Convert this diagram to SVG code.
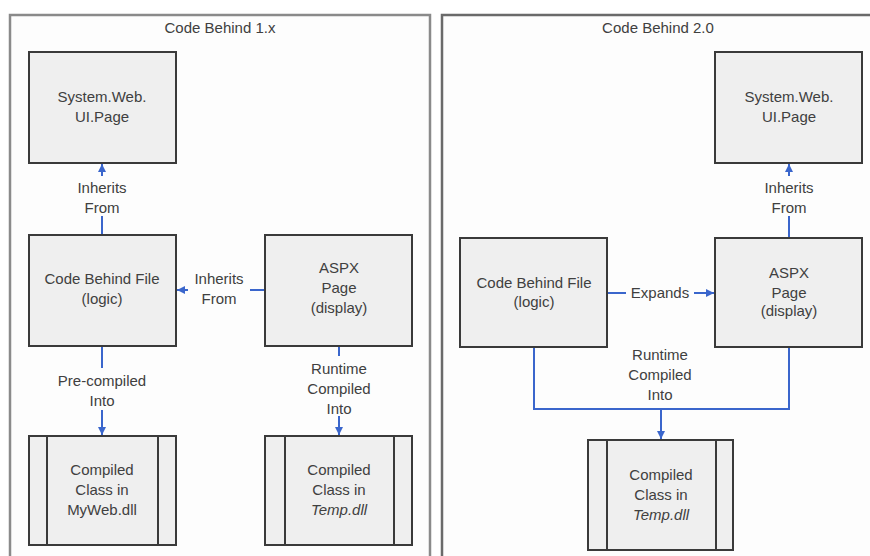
<svg xmlns="http://www.w3.org/2000/svg" width="870" height="556" viewBox="0 0 870 556">
<defs>
<marker id="ah" viewBox="0 0 10 10" refX="10" refY="5" markerWidth="8" markerHeight="8" markerUnits="userSpaceOnUse" orient="auto">
<path d="M0,0 L10,5 L0,10 z" fill="#3a66cc"/>
</marker>
<style>
.panel{fill:#fdfdfd;stroke:#8a8a8a;stroke-width:2.5}
.box{fill:#efefef;stroke:#3a3a3a;stroke-width:2}
.bar{stroke:#3a3a3a;stroke-width:2}
.t{font-family:"Liberation Sans",Arial,sans-serif;font-size:15px;fill:#404040;text-anchor:middle}
.it{font-style:italic}
.c{fill:none;stroke:#3a66cc;stroke-width:2}
.lbg{fill:#fdfdfd}
</style>
</defs>
<rect width="870" height="556" fill="#ffffff"/>
<g id="panel1">
<rect class="panel" x="10" y="15" width="420" height="560"/>
<text class="t" x="220" y="33">Code Behind 1.x</text>
</g>
<g id="panel2">
<rect class="panel" x="442" y="15" width="450" height="560" style="stroke:#6a6a6a"/>
<text class="t" x="658" y="33">Code Behind 2.0</text>
</g>
<g id="connectors">
<path class="c" d="M102,234 V164" marker-end="url(#ah)"/>
<path class="c" d="M265,290 H177" marker-end="url(#ah)"/>
<path class="c" d="M102,347 V435" marker-end="url(#ah)"/>
<path class="c" d="M339,347 V435" marker-end="url(#ah)"/>
<path class="c" d="M789,237 V164" marker-end="url(#ah)"/>
<path class="c" d="M607,293 H714" marker-end="url(#ah)"/>
<path class="c" d="M534,348 V409 H789 V348"/>
<path class="c" d="M661,409 V439" marker-end="url(#ah)"/>
<rect class="lbg" x="70" y="176" width="64" height="40"/>
<rect class="lbg" x="188" y="266" width="62" height="40"/>
<rect class="lbg" x="50" y="368" width="104" height="42"/>
<rect class="lbg" x="302" y="356" width="74" height="60"/>
<rect class="lbg" x="757" y="176" width="64" height="40"/>
<rect class="lbg" x="626" y="284" width="68" height="18"/>
<text class="t" x="102" y="193">Inherits</text>
<text class="t" x="102" y="213">From</text>
<text class="t" x="219" y="284">Inherits</text>
<text class="t" x="219" y="304">From</text>
<text class="t" x="102" y="386">Pre-compiled</text>
<text class="t" x="102" y="406">Into</text>
<text class="t" x="339" y="374">Runtime</text>
<text class="t" x="339" y="394">Compiled</text>
<text class="t" x="339" y="414">Into</text>
<text class="t" x="789" y="193">Inherits</text>
<text class="t" x="789" y="213">From</text>
<text class="t" x="660" y="298">Expands</text>
<text class="t" x="660" y="360">Runtime</text>
<text class="t" x="660" y="380">Compiled</text>
<text class="t" x="660" y="400">Into</text>
</g>
<g id="sys1">
<rect class="box" x="29" y="52" width="147" height="111"/>
<text class="t" x="102" y="102">System.Web.</text>
<text class="t" x="102" y="122">UI.Page</text>
</g>
<g id="cb1">
<rect class="box" x="29" y="235" width="147" height="111"/>
<text class="t" x="102" y="284">Code Behind File</text>
<text class="t" x="102" y="304">(logic)</text>
</g>
<g id="aspx1">
<rect class="box" x="265" y="235" width="147" height="111"/>
<text class="t" x="339" y="273">ASPX</text>
<text class="t" x="339" y="293">Page</text>
<text class="t" x="339" y="313">(display)</text>
</g>
<g id="dll1">
<rect class="box" x="29" y="436" width="147" height="109"/>
<line class="bar" x1="47" y1="436" x2="47" y2="545"/>
<line class="bar" x1="158" y1="436" x2="158" y2="545"/>
<text class="t" x="102" y="475">Compiled</text>
<text class="t" x="102" y="495">Class in</text>
<text class="t" x="102" y="515">MyWeb.dll</text>
</g>
<g id="temp1">
<rect class="box" x="265" y="436" width="147" height="109"/>
<line class="bar" x1="285" y1="436" x2="285" y2="545"/>
<line class="bar" x1="394" y1="436" x2="394" y2="545"/>
<text class="t" x="339" y="475">Compiled</text>
<text class="t" x="339" y="495">Class in</text>
<text class="t it" x="339" y="515">Temp.dll</text>
</g>
<g id="sys2">
<rect class="box" x="715" y="52" width="147" height="111"/>
<text class="t" x="789" y="102">System.Web.</text>
<text class="t" x="789" y="122">UI.Page</text>
</g>
<g id="cb2">
<rect class="box" x="460" y="238" width="147" height="109"/>
<text class="t" x="534" y="288">Code Behind File</text>
<text class="t" x="534" y="307">(logic)</text>
</g>
<g id="aspx2">
<rect class="box" x="715" y="238" width="147" height="109"/>
<text class="t" x="789" y="278">ASPX</text>
<text class="t" x="789" y="298">Page</text>
<text class="t" x="789" y="316">(display)</text>
</g>
<g id="temp2">
<rect class="box" x="588" y="440" width="145" height="110"/>
<line class="bar" x1="607" y1="440" x2="607" y2="550"/>
<line class="bar" x1="716" y1="440" x2="716" y2="550"/>
<text class="t" x="661" y="480">Compiled</text>
<text class="t" x="661" y="500">Class in</text>
<text class="t it" x="661" y="520">Temp.dll</text>
</g>
</svg>
